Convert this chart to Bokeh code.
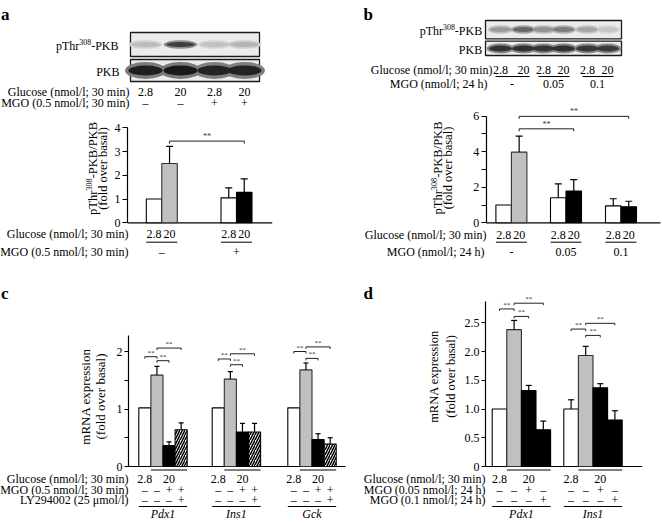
import math
from bokeh.plotting import figure
from bokeh.models import Range1d, FixedTicker, LinearAxis
from bokeh.core.properties import value
from bokeh.embed import file_html
from bokeh.resources import INLINE

FONT = "Liberation Serif"
W, H = 662, 524

# ---------------- data: panel a ----------------
a_lane_glucose = ["2.8", "20", "2.8", "20"]
a_lane_mgo = ["–", "–", "+", "+"]
a_pthr_intensity = [0.22, 0.80, 0.20, 0.26]
a_pkb_intensity = [0.95, 0.97, 0.93, 0.93]
a_bar_glucose = ["2.8", "20", "2.8", "20"]
a_group_mgo = ["–", "+"]
a_mean = [1.0, 2.5, 1.05, 1.28]
a_sem = [0.0, 0.72, 0.42, 0.57]
a_fill = ["white", "gray", "white", "black"]
a_sig_from = [1]
a_sig_to = [3]
a_sig_level = [3.44]
a_ticks = [0, 1, 2, 3, 4]

# ---------------- data: panel b ----------------
b_lane_glucose = ["2.8", "20", "2.8", "20", "2.8", "20"]
b_pair_mgo = ["-", "0.05", "0.1"]
b_pthr_intensity = [0.38, 0.62, 0.42, 0.52, 0.33, 0.18]
b_pkb_intensity = [0.86, 0.87, 0.85, 0.87, 0.84, 0.83]
b_bar_glucose = ["2.8", "20", "2.8", "20", "2.8", "20"]
b_group_mgo = ["-", "0.05", "0.1"]
b_mean = [1.0, 3.97, 1.41, 1.79, 0.95, 0.90]
b_sem = [0.0, 0.90, 0.78, 0.63, 0.40, 0.31]
b_fill = ["white", "gray", "white", "black", "white", "black"]
b_sig_from = [1, 1]
b_sig_to = [3, 5]
b_sig_level = [5.28, 5.98]
b_ticks = [0, 2, 4, 6]
b_minor_ticks = [1, 3, 5]

# ---------------- data: panel c ----------------
c_genes = ["Pdx1", "Ins1", "Gck"]
c_glucose = ["2.8", "20"]
c_mgo = ["–", "–", "+", "+"]
c_ly = ["–", "–", "–", "+"]
c_mean = [1.02, 1.59, 0.365, 0.64, 1.02, 1.52, 0.60, 0.60, 1.02, 1.68, 0.47, 0.39]
c_sem = [0.0, 0.15, 0.065, 0.12, 0.0, 0.13, 0.15, 0.15, 0.0, 0.12, 0.10, 0.11]
c_fill = ["white", "gray", "black", "hatch"] * 3
c_sig_from = [0, 1, 1, 4, 5, 5, 8, 9, 9]
c_sig_to = [1, 2, 3, 5, 6, 7, 9, 10, 11]
c_sig_level = [1.91, 1.84, 2.06, 1.87, 1.77, 1.96, 2.00, 1.88, 2.08]
c_ticks = [0, 1, 2]
c_minor_ticks = [0.5, 1.5]

# ---------------- data: panel d ----------------
d_genes = ["Pdx1", "Ins1"]
d_glucose = ["2.8", "20"]
d_mgo005 = ["–", "–", "+", "–"]
d_mgo01 = ["–", "–", "–", "+"]
d_mean = [1.0, 2.38, 1.32, 0.64, 1.0, 1.93, 1.37, 0.81]
d_sem = [0.0, 0.16, 0.09, 0.15, 0.16, 0.16, 0.07, 0.16]
d_fill = ["white", "gray", "black", "black"] * 2
d_sig_from = [0, 1, 1, 4, 5, 5]
d_sig_to = [1, 2, 3, 5, 6, 7]
d_sig_level = [2.74, 2.61, 2.84, 2.39, 2.28, 2.49]
d_ticks = [0, 0.5, 1, 1.5, 2, 2.5]
d_tick_labels = ["0", "0.5", "1.0", "1.5", "2.0", "2.5"]

FILL = {"white": "#ffffff", "gray": "#c0c0c0", "black": "#000000", "hatch": "#ffffff"}

# Times-compatible advance widths (per em) for composing superscripted labels
ADV = {"p": .5, "T": .611, "h": .5, "r": .333, "3": .5, "0": .5, "8": .5, "-": .333,
       "P": .556, "K": .722, "B": .667, "/": .278}

# ---------------- canvas (page-pixel coordinates) ----------------
p = figure(width=W, height=H, x_range=Range1d(0, W), y_range=Range1d(H, 0),
           x_axis_type=None, y_axis_type=None, output_backend="svg",
           toolbar_location=None, min_border=0)
p.outline_line_color = None
p.grid.visible = False
p.background_fill_color = "white"
p.border_fill_color = "white"


def data_range(name, y0, ppu):
    p.extra_y_ranges[name] = Range1d((y0 - H) / ppu, y0 / ppu)


def add_yaxis(rn, x, top_val, ticks, minor=None, labels=None, tick_len=5, size="12px"):
    ax = LinearAxis(y_range_name=rn, fixed_location=x, bounds=(0, top_val),
                    ticker=FixedTicker(ticks=ticks, minor_ticks=minor or []))
    ax.axis_line_color = "black"
    ax.axis_line_width = 1.2
    ax.major_tick_line_color = "black"
    ax.minor_tick_line_color = "black"
    ax.major_tick_out = tick_len
    ax.major_tick_in = 0
    ax.minor_tick_out = tick_len
    ax.minor_tick_in = 0
    ax.major_label_standoff = 2
    ax.major_label_text_font = FONT
    ax.major_label_text_font_size = size
    ax.major_label_text_color = "black"
    if labels is not None:
        ax.major_label_overrides = {t: l for t, l in zip(ticks, labels)}
    p.add_layout(ax, "left")


def bar_x(group_centers, n, w):
    return [gc + (i - (n - 1) / 2) * w for gc in group_centers for i in range(n)]


def draw_bars(rn, xs, w, means, sems, fills, cap, x0, x_end):
    p.segment(x0=[x0], y0=[0], x1=[x_end], y1=[0], y_range_name=rn,
              line_color="black", line_width=1.2)
    for kind in ["white", "gray", "black", "hatch"]:
        idx = [i for i, f in enumerate(fills) if f == kind]
        if not idx:
            continue
        kw = dict(x=[xs[i] for i in idx], width=w, top=[means[i] for i in idx], bottom=0,
                  fill_color=FILL[kind], line_color="black" if kind != "gray" else "#303030",
                  line_width=1.1, y_range_name=rn)
        if kind == "hatch":
            kw.update(hatch_pattern="right_diagonal_line", hatch_color="black",
                      hatch_scale=5.0, hatch_weight=1.5)
        p.vbar(**kw)
    ei = [i for i, s in enumerate(sems) if s > 0]
    ex = [xs[i] for i in ei]
    ey0 = [means[i] for i in ei]
    ey1 = [means[i] + sems[i] for i in ei]
    p.segment(x0=ex, y0=ey0, x1=ex, y1=ey1, y_range_name=rn, line_color="black", line_width=1.2)
    p.segment(x0=[x - cap for x in ex], y0=ey1, x1=[x + cap for x in ex], y1=ey1,
              y_range_name=rn, line_color="black", line_width=1.2)


def draw_sig(rn, xs, froms, tos, levels, ppu, size, tick=2.5):
    xa = [xs[i] for i in froms]
    xb = [xs[j] for j in tos]
    dt = tick / ppu
    kw = dict(y_range_name=rn, line_color="#222", line_width=1)
    p.segment(x0=xa, y0=levels, x1=xb, y1=levels, **kw)
    p.segment(x0=xa, y0=levels, x1=xa, y1=[l - dt for l in levels], **kw)
    p.segment(x0=xb, y0=levels, x1=xb, y1=[l - dt for l in levels], **kw)
    p.text(x=[(a + b) / 2 for a, b in zip(xa, xb)], y=levels, text=["**"] * len(levels),
           y_range_name=rn, text_font=value(FONT), text_font_size=value(size),
           text_color="#333", text_align="center", text_baseline="bottom")


def txt(xs, y, texts, size=12, style="normal", align="center", angle=0.0,
        baseline="middle"):
    p.text(x=xs, y=[y] * len(xs), text=texts, angle=angle,
           text_font=value(FONT), text_font_size=value("%spx" % size),
           text_font_style=value(style), text_color="black",
           text_align=value(align), text_baseline=value(baseline))


def width_of(s, size):
    return sum(ADV[c] for c in s) * size


def sup_label(parts, anchor, other, size, vertical=False, align="right"):
    """parts: list of (text, is_superscript). Horizontal: anchor is x, other is y.
    Vertical (reading upwards): anchor is the centre y, other is x."""
    sup_size = size * 0.66
    sizes = [sup_size if s else size for _, s in parts]
    total = sum(width_of(t, sz) for (t, _), sz in zip(parts, sizes))
    if not vertical:
        cur = anchor - total if align == "right" else anchor
        for (t, s), sz in zip(parts, sizes):
            txt([cur], other - (size * 0.32 if s else 0), [t], sz, align="left")
            cur += width_of(t, sz)
    else:
        cur = anchor + total / 2
        for (t, s), sz in zip(parts, sizes):
            txt([other - (size * 0.32 if s else 0)], cur, [t], sz, align="left",
                angle=math.pi / 2)
            cur -= width_of(t, sz)


def hline(x0s, x1s, y):
    p.segment(x0=x0s, y0=[y] * len(x0s), x1=x1s, y1=[y] * len(x0s),
              line_color="black", line_width=1)


def gray_hex(t):
    v = int(round(236 - 216 * t))
    return "#%02x%02x%02x" % (v, v, v)


def draw_blot(lanes, row_y, intens, bw, bh, box):
    l, r, t, b = box
    n = len(lanes)
    p.quad(left=[l], right=[r], top=[t], bottom=[b],
           fill_color="#ebebeb", line_color="#1a1a1a", line_width=1.3)
    p.ellipse(x=lanes, y=[row_y] * n, width=bw * 1.2, height=bh * 1.7,
              width_units="screen", height_units="screen",
              fill_color=[gray_hex(0.55 * v) for v in intens], line_color=None)
    p.ellipse(x=lanes, y=[row_y] * n, width=bw, height=bh,
              width_units="screen", height_units="screen",
              fill_color=[gray_hex(v) for v in intens], line_color=None)


PTHR_BLOT = [("pThr", False), ("308", True), ("-PKB", False)]
PTHR_AXIS = [("pThr", False), ("308", True), ("-PKB/PKB", False)]
Y_B = "(fold over basal)"
Y_M = "mRNA expression"
HALF_PI = math.pi / 2

# ---------------- panel a ----------------
data_range("a", 222.3, 23.75)
add_yaxis("a", 127, 4, a_ticks)
a_lanes = [145, 180, 214, 244]
draw_blot(a_lanes, 44, a_pthr_intensity, 28, 5, (130, 259, 32, 56))
draw_blot(a_lanes, 70, a_pkb_intensity, 34, 10, (130, 259, 59, 81))
sup_label(PTHR_BLOT, 118, 45, 12)
txt([119], 71, ["PKB"], align="right")
txt([129], 91, ["Glucose (nmol/l; 30 min)"], align="right")
txt([129], 102, ["MGO (0.5 nmol/l; 30 min)"], align="right")
txt(a_lanes, 91, a_lane_glucose)
txt(a_lanes, 102, a_lane_mgo)
a_w = 15.5
a_gc = [161.3, 236.0]
a_x = bar_x(a_gc, 2, a_w)
draw_bars("a", a_x, a_w, a_mean, a_sem, a_fill, 3.5, 127, 271.7)
draw_sig("a", a_x, a_sig_from, a_sig_to, a_sig_level, 23.75, "8px")
txt([128], 233, ["Glucose (nmol/l; 30 min)"], align="right")
txt([128], 251, ["MGO (0.5 nmol/l; 30 min)"], align="right")
txt(a_x, 233, a_bar_glucose)
hline([g - a_w for g in a_gc], [g + a_w for g in a_gc], 241.7)
txt(a_gc, 251, a_group_mgo)
sup_label(PTHR_AXIS, 168, 92.5, 12.5, vertical=True)
txt([102.5], 168, [Y_B], 12.5, angle=HALF_PI)
txt([0.5], 13.5, ["a"], 17, "bold", "left", baseline="alphabetic")

# ---------------- panel b ----------------
data_range("b", 222.3, 17.8)
add_yaxis("b", 485.7, 6, b_ticks, b_minor_ticks)
b_lanes = [500, 523, 543, 563, 587, 607]
draw_blot(b_lanes, 29, b_pthr_intensity, 21, 5, (485, 621, 20, 38.3))
draw_blot(b_lanes, 48, b_pkb_intensity, 23, 6, (485, 621, 40.7, 55))
sup_label(PTHR_BLOT, 481.7, 30, 12)
txt([481.7], 49, ["PKB"], align="right")
txt([492], 69, ["Glucose (nmol/l; 30 min)"], align="right")
txt([487], 83.3, ["MGO (nmol/l; 24 h)"], align="right")
txt(b_lanes, 69, b_lane_glucose)
hline([b_lanes[k] - 5 for k in (0, 2, 4)], [b_lanes[k] + 6 for k in (1, 3, 5)], 76)
txt([(b_lanes[k] + b_lanes[k + 1]) / 2 for k in (0, 2, 4)], 83.3, b_pair_mgo)
b_w = 15.5
b_gc = [510.9, 565.5, 620.5]
b_x = bar_x(b_gc, 2, b_w)
draw_bars("b", b_x, b_w, b_mean, b_sem, b_fill, 3.5, 485.7, 660)
draw_sig("b", b_x, b_sig_from, b_sig_to, b_sig_level, 17.8, "8px")
txt([486], 234.3, ["Glucose (nmol/l; 30 min)"], align="right")
txt([484], 251, ["MGO (nmol/l; 24 h)"], align="right")
txt(b_x, 234.3, b_bar_glucose)
hline([g - b_w for g in b_gc], [g + b_w for g in b_gc], 241.7)
txt(b_gc, 251, b_group_mgo)
sup_label(PTHR_AXIS, 167.5, 437, 12.5, vertical=True)
txt([447], 167.5, [Y_B], 12.5, angle=HALF_PI)
txt([363], 13.5, ["b"], 17, "bold", "left", baseline="alphabetic")

# ---------------- panel c ----------------
data_range("c", 466, 57.5)
add_yaxis("c", 128, 2.28, c_ticks, c_minor_ticks, tick_len=4)
c_w = 12.1
c_gc = [162.5, 235.9, 311.5]
c_x = bar_x(c_gc, 4, c_w)
draw_bars("c", c_x, c_w, c_mean, c_sem, c_fill, 2.5, 128, 345)
draw_sig("c", c_x, c_sig_from, c_sig_to, c_sig_level, 57.5, "7px", 2)
txt([128], 478.3, ["Glucose (nmol/l; 30 min)"], align="right")
txt([128], 489.3, ["MGO (0.5 nmol/l; 30 min)"], align="right")
txt([128], 499, ["LY294002 (25 μmol/l)"], align="right")
txt([c_x[4 * g] for g in range(3)], 478.3, [c_glucose[0]] * 3)
txt([c_x[4 * g + 2] for g in range(3)], 478.3, [c_glucose[1]] * 3)
hline([c_x[4 * g + 1] - c_w / 2 for g in range(3)],
      [c_x[4 * g + 3] + c_w / 2 for g in range(3)], 469.5)
txt(c_x, 489.3, c_mgo * 3)
txt(c_x, 499, c_ly * 3)
hline([g - 2 * c_w for g in c_gc], [g + 2 * c_w for g in c_gc], 506)
txt(c_gc, 513.5, c_genes, 12, "italic")
txt([85], 396, [Y_M], 13, angle=HALF_PI)
txt([99.5], 396, [Y_B], 13, angle=HALF_PI)
txt([0.5], 293, ["c"], 17, "bold", "left", baseline="alphabetic")

# ---------------- panel d ----------------
data_range("d", 466, 57.5)
add_yaxis("d", 485, 2.87, d_ticks, labels=d_tick_labels, tick_len=4)
d_w = 14.6
d_gc = [520.9, 592.5]
d_x = bar_x(d_gc, 4, d_w)
draw_bars("d", d_x, d_w, d_mean, d_sem, d_fill, 3, 485, 641.7)
draw_sig("d", d_x, d_sig_from, d_sig_to, d_sig_level, 57.5, "7px", 2)
txt([485], 478.3, ["Glucose (nmol/l; 30 min)"], align="right")
txt([485], 489.3, ["MGO (0.05 nmol/l; 24 h)"], align="right")
txt([485], 499, ["MGO (0.1 nmol/l; 24 h)"], align="right")
txt([d_x[4 * g] for g in range(2)], 478.3, [d_glucose[0]] * 2)
txt([d_x[4 * g + 2] for g in range(2)], 478.3, [d_glucose[1]] * 2)
hline([d_x[4 * g + 1] - d_w / 2 for g in range(2)],
      [d_x[4 * g + 3] + d_w / 2 for g in range(2)], 469.5)
txt(d_x, 489.3, d_mgo005 * 2)
txt(d_x, 499, d_mgo01 * 2)
hline([g - 2 * d_w for g in d_gc], [g + 2 * d_w for g in d_gc], 506)
txt(d_gc, 513.5, d_genes, 12, "italic")
txt([433.5], 376, [Y_M], 12.5, angle=HALF_PI)
txt([450], 376, [Y_B], 12.5, angle=HALF_PI)
txt([363], 293, ["d"], 17, "bold", "left", baseline="alphabetic")

open("out.html", "w").write(file_html(p, INLINE))
